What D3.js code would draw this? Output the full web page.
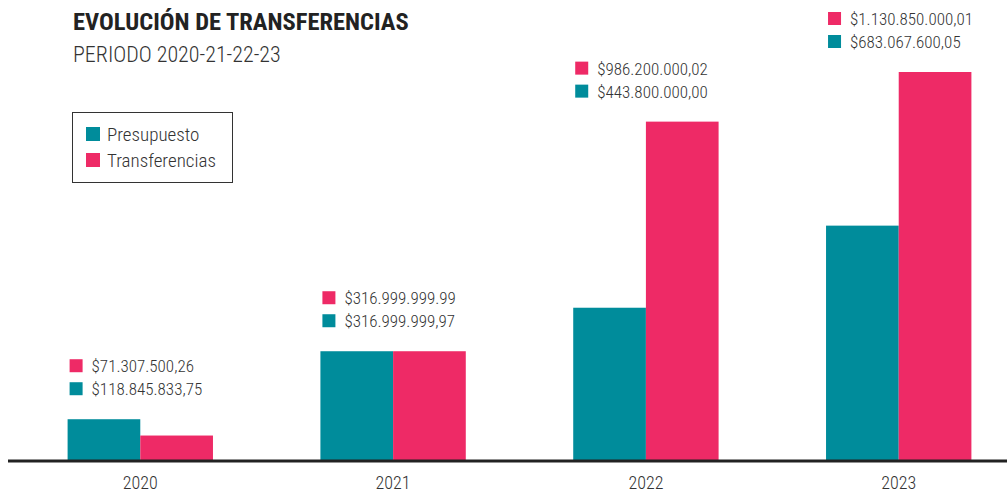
<!DOCTYPE html>
<html>
<head>
<meta charset="utf-8">
<script src="https://cdn.jsdelivr.net/npm/d3@7"></script>
<style>
  html, body { margin: 0; padding: 0; background: #fff; }
  svg text { font-family: "Liberation Sans Narrow", "Roboto Condensed", "DejaVu Sans Condensed", sans-serif; fill: #333; }
</style>
</head>
<body>
<svg id="chart" width="1007" height="493"></svg>
<script>
const categories = ["2020", "2021", "2022", "2023"];
const seriesNames = ["Presupuesto", "Transferencias"];
const presupuesto = [118845833.75, 316999999.97, 443800000.00, 683067600.05];
const transferencias = [71307500.26, 316999999.99, 986200000.02, 1130850000.01];
const presupuestoLabels = ["$118.845.833,75", "$316.999.999,97", "$443.800.000,00", "$683.067.600,05"];
const transferenciasLabels = ["$71.307.500,26", "$316.999.999.99", "$986.200.000,02", "$1.130.850.000,01"];
const colors = ["#008c9b", "#ee2a66"];

const svg = d3.select("#chart");
const W = 1007, baseY = 460, topY = 72;

const x = d3.scaleBand().domain(categories).range([14, 1025]).paddingInner(0.425).paddingOuter(0.212);
const xs = d3.scaleBand().domain(seriesNames).range([0, x.bandwidth()]);
const y = d3.scaleLinear().domain([0, d3.max(transferencias)]).range([baseY, topY]);

const data = categories.map((c, i) => ({
  cat: c,
  vals: [presupuesto[i], transferencias[i]],
  labels: [presupuestoLabels[i], transferenciasLabels[i]]
}));

// Bars
const g = svg.selectAll("g.cat").data(data).join("g").attr("class", "cat")
  .attr("transform", d => `translate(${x(d.cat)},0)`);
g.selectAll("rect").data(d => d.vals.map((v, k) => ({v, k})))
  .join("rect")
  .attr("x", d => xs(seriesNames[d.k]))
  .attr("width", xs.bandwidth())
  .attr("y", d => y(d.v))
  .attr("height", d => baseY - y(d.v))
  .attr("fill", d => colors[d.k]);

// Value labels (pink on top, teal below)
g.each(function(d) {
  const gg = d3.select(this);
  const top = y(d3.max(d.vals));
  const rows = [{k: 1, yy: top - 53}, {k: 0, yy: top - 30}];
  rows.forEach(r => {
    gg.append("rect").attr("x", 2).attr("y", r.yy - 7).attr("width", 13).attr("height", 13)
      .attr("fill", colors[r.k]);
    gg.append("text").attr("x", 24).attr("y", r.yy).attr("dy", "0.35em")
      .attr("font-size", 17).attr("font-weight", 300).text(d.labels[r.k]);
  });
});

// Axis
const axis = svg.append("g").attr("transform", `translate(0,${baseY})`)
  .call(d3.axisBottom(x).tickSize(0).tickPadding(16));
axis.select(".domain").remove();
axis.selectAll("text").attr("font-size", 18).attr("font-weight", 300).style("font-family", null).attr("fill", "#333");
svg.append("line").attr("x1", 8).attr("x2", W).attr("y1", baseY + 1).attr("y2", baseY + 1)
  .attr("stroke", "#222").attr("stroke-width", 3);

// Title
svg.append("text").attr("x", 73).attr("y", 30).attr("font-size", 24.5).attr("font-weight", "bold")
  .style("fill", "#222").text("EVOLUCIÓN DE TRANSFERENCIAS");
svg.append("text").attr("x", 73).attr("y", 62).attr("font-size", 22).attr("font-weight", 300)
  .text("PERIODO 2020-21-22-23");

// Legend
const lg = svg.append("g");
lg.append("rect").attr("x", 72.5).attr("y", 112.5).attr("width", 160).attr("height", 70)
  .attr("fill", "none").attr("stroke", "#333").attr("stroke-width", 1);
seriesNames.forEach((s, i) => {
  lg.append("rect").attr("x", 86).attr("y", 127 + i * 26).attr("width", 14).attr("height", 14).attr("fill", colors[i]);
  lg.append("text").attr("x", 107).attr("y", 134 + i * 26).attr("dy", "0.35em").attr("font-size", 19)
    .attr("font-weight", 300).text(s);
});
</script>
</body>
</html>
